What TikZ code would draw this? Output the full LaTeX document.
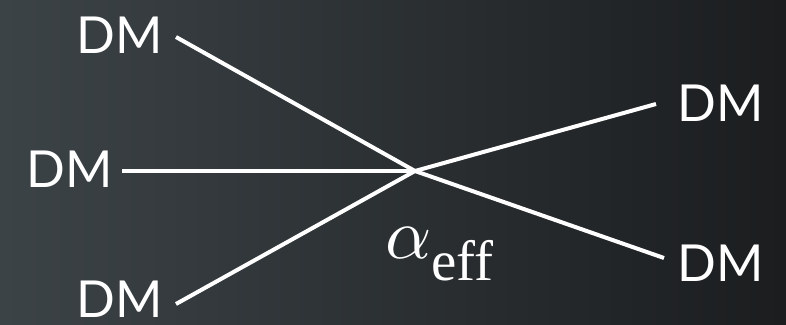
\documentclass[tikz,border=0pt]{standalone}
\usepackage{fontspec}
\setmainfont{Lato}
\newfontfamily\timesfont{Liberation Serif}
\definecolor{bgleft}{RGB}{60,67,71}
\definecolor{bgright}{RGB}{27,29,31}
\begin{document}
\begin{tikzpicture}[x=1pt,y=-1pt,
  dm/.style={inner sep=0pt,text=white,font=\fontsize{51}{51}\selectfont},
  leg/.style={draw=white,line width=4pt}]
\shade[left color=bgleft, right color=bgright] (0,0) rectangle (786,324);
\useasboundingbox (0,0) rectangle (786,324);
\node[dm] (tl) at (120,35) {DM};
\node[dm] (ml) at (70,169) {DM};
\node[dm] (bl) at (120,299) {DM};
\node[dm] (tr) at (721,103) {DM};
\node[dm] (br) at (721,263) {DM};
\coordinate (c) at (415,171);
\coordinate (tle) at (176,37);
\coordinate (mle) at (122,171);
\coordinate (ble) at (176,304);
\coordinate (tre) at (656,104);
\coordinate (bre) at (664,258);
\draw[leg] (tle) -- (c);
\draw[leg] (mle) -- (c);
\draw[leg] (ble) -- (c);
\draw[leg] (tre) -- (c);
\draw[leg] (bre) -- (c);
\node[inner sep=0pt,text=white,anchor=base west,font=\timesfont] (a) at (385,258) {\scalebox{7.2}{$\alpha$}\raisebox{-22pt}{\fontsize{57}{57}\selectfont eff}};
\end{tikzpicture}
\end{document}
